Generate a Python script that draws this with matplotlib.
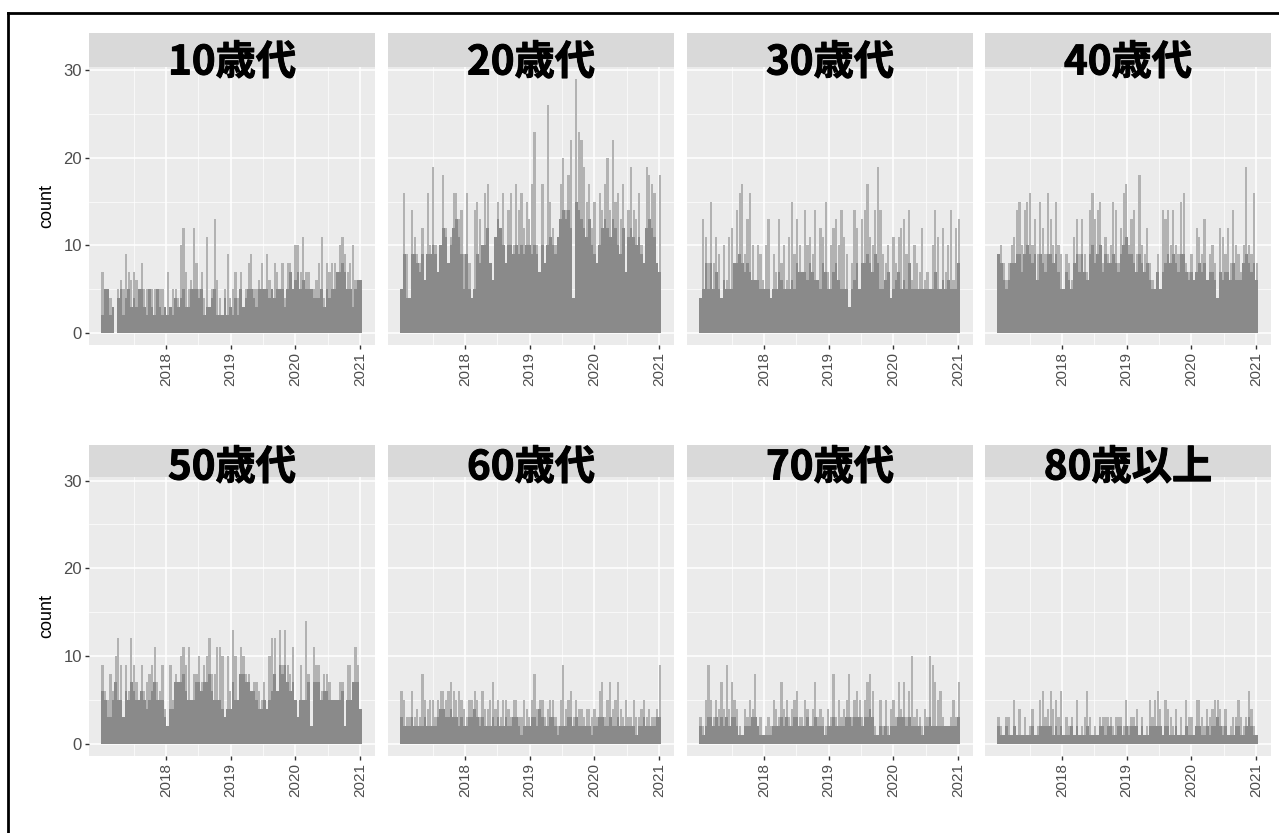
import numpy as np
import matplotlib.pyplot as plt
import matplotlib.patheffects as pe

plt.rcParams['font.family'] = ['Liberation Sans', 'DejaVu Sans']

# facet titles
TITLES = ['10歳代', '20歳代', '30歳代', '40歳代', '50歳代', '60歳代', '70歳代', '80歳以上']

# spike heights (light) and base heights (dark), ~2 weeks per value, 2017-01 .. 2021-01
hi_10 = [7, 5, 5, 4, 3, 0, 5, 6, 5, 9, 7, 6,
         7, 6, 5, 8, 5, 5, 5, 5, 5, 5, 5, 5, 3,
         7, 3, 5, 5, 4, 10, 12, 7, 5, 6, 12, 8,
         5, 7, 4, 11, 3, 5, 13, 6, 4, 2, 5, 9, 4,
         5, 7, 4, 7, 3, 5, 8, 9, 5, 5, 6, 8,
         5, 9, 6, 5, 8, 7, 5, 8, 4, 8, 8, 5, 10,
         10, 7, 11, 7, 7, 5, 5, 6, 8, 11, 4, 8,
         7, 8, 8, 7, 10, 11, 9, 7, 8, 10, 6, 6, 6]
lo_10 = [2, 5, 5, 2, 3, 0, 4, 5, 2, 4, 5, 3,
         4, 3, 5, 5, 3, 2, 5, 3, 2, 5, 3, 2, 3,
         2, 3, 2, 4, 3, 4, 5, 3, 3, 5, 5, 5,
         4, 5, 2, 3, 3, 4, 5, 2, 2, 2, 4, 2, 3,
         2, 4, 2, 5, 3, 4, 5, 5, 4, 3, 5, 5,
         5, 5, 4, 5, 4, 5, 5, 5, 3, 5, 7, 5, 6,
         7, 5, 6, 5, 5, 5, 4, 4, 4, 5, 3, 5,
         4, 5, 5, 7, 7, 8, 7, 5, 5, 3, 5, 6, 6]

hi_20 = [5, 16, 9, 4, 14, 11, 9, 8, 12, 6, 16, 10,
         19, 10, 7, 10, 18, 12, 8, 11, 16, 16, 13, 14, 9,
         16, 8, 4, 14, 15, 13, 10, 16, 17, 8, 6, 11,
         15, 12, 16, 8, 14, 16, 10, 17, 14, 16, 12, 15, 13,
         17, 23, 10, 7, 17, 8, 26, 15, 12, 10, 11, 17,
         20, 14, 18, 22, 4, 29, 23, 22, 19, 15, 17, 12, 15,
         8, 16, 14, 17, 20, 14, 22, 15, 16, 13, 17, 7,
         14, 19, 14, 13, 16, 10, 8, 19, 18, 17, 16, 8, 18]
lo_20 = [5, 9, 4, 4, 9, 9, 8, 7, 9, 6, 9, 9,
         10, 9, 7, 10, 12, 11, 8, 10, 12, 13, 11, 9, 5,
         9, 5, 4, 5, 9, 8, 10, 10, 12, 8, 6, 11,
         13, 12, 10, 8, 10, 10, 9, 10, 9, 10, 9, 10, 10,
         9, 10, 9, 7, 10, 8, 10, 11, 10, 9, 11, 13,
         14, 13, 14, 12, 4, 15, 14, 13, 12, 11, 13, 10, 9,
         8, 10, 12, 13, 12, 11, 13, 12, 10, 9, 12, 7,
         11, 12, 11, 10, 11, 9, 8, 12, 13, 12, 11, 8, 7]

hi_30 = [4, 13, 11, 8, 15, 8, 11, 9, 4, 10, 6, 11,
         12, 8, 14, 16, 17, 9, 13, 16, 10, 6, 10, 9, 6,
         10, 13, 4, 9, 7, 13, 8, 10, 6, 11, 15, 9,
         13, 10, 7, 14, 10, 11, 9, 14, 6, 12, 11, 15, 7,
         10, 12, 13, 10, 14, 11, 9, 3, 8, 14, 12, 5,
         13, 14, 17, 11, 10, 14, 19, 14, 9, 8, 10, 4, 11,
         8, 11, 12, 13, 9, 14, 6, 10, 8, 7, 12, 6,
         7, 5, 10, 14, 11, 5, 12, 7, 10, 14, 6, 12, 13]
lo_30 = [4, 5, 8, 5, 8, 5, 7, 5, 4, 6, 5, 5,
         5, 8, 8, 9, 8, 7, 8, 7, 6, 6, 6, 5, 5,
         5, 5, 4, 5, 5, 7, 6, 5, 5, 5, 6, 5,
         8, 7, 7, 7, 6, 8, 7, 6, 6, 5, 8, 7, 5,
         5, 7, 8, 6, 5, 5, 5, 3, 5, 6, 8, 5,
         8, 8, 9, 8, 7, 9, 8, 5, 5, 6, 7, 4, 5,
         6, 7, 5, 6, 5, 8, 5, 5, 5, 5, 5, 5,
         5, 5, 5, 7, 5, 5, 6, 5, 6, 5, 5, 5, 8]

hi_40 = [9, 10, 8, 6, 8, 10, 11, 14, 15, 10, 14, 15,
         16, 10, 13, 9, 15, 12, 9, 16, 13, 10, 15, 10, 9,
         5, 9, 8, 6, 11, 13, 9, 13, 9, 7, 14, 16,
         13, 14, 15, 8, 11, 9, 10, 15, 14, 8, 12, 16, 17,
         10, 13, 14, 9, 18, 10, 9, 12, 8, 6, 5, 9,
         5, 14, 13, 14, 10, 14, 10, 9, 15, 16, 8, 7, 9,
         6, 12, 11, 9, 13, 6, 9, 10, 8, 4, 12, 11,
         9, 12, 8, 14, 10, 9, 7, 10, 19, 10, 9, 16, 8]
lo_40 = [9, 8, 6, 5, 6, 8, 8, 9, 9, 7, 9, 10,
         9, 8, 9, 6, 9, 8, 7, 9, 9, 8, 9, 7, 5,
         5, 7, 6, 5, 8, 9, 7, 9, 7, 6, 9, 10,
         8, 9, 10, 7, 9, 8, 8, 9, 8, 7, 9, 10, 11,
         9, 9, 8, 7, 9, 8, 7, 8, 6, 5, 5, 7,
         5, 7, 8, 9, 8, 9, 8, 7, 9, 9, 7, 6, 7,
         6, 7, 8, 7, 8, 6, 7, 7, 6, 4, 7, 6,
         7, 7, 6, 8, 6, 6, 6, 8, 9, 8, 7, 8, 6]

hi_50 = [9, 6, 5, 8, 6, 10, 12, 9, 3, 9, 6, 12,
         9, 7, 5, 9, 6, 7, 8, 9, 11, 7, 6, 9, 4,
         2, 9, 5, 8, 7, 10, 11, 9, 11, 5, 8, 8,
         10, 7, 9, 10, 12, 8, 8, 11, 11, 10, 3, 10, 6,
         13, 10, 5, 11, 10, 8, 8, 6, 7, 7, 6, 5,
         7, 4, 10, 12, 12, 6, 13, 9, 13, 9, 8, 11, 5,
         3, 9, 5, 14, 8, 2, 11, 9, 9, 6, 8, 8,
         7, 5, 5, 5, 7, 7, 2, 9, 9, 7, 11, 9, 4]
lo_50 = [6, 5, 3, 3, 5, 7, 5, 5, 3, 6, 5, 7,
         6, 5, 5, 6, 5, 4, 5, 6, 7, 5, 5, 5, 3,
         2, 4, 4, 7, 7, 7, 8, 6, 5, 5, 5, 7,
         7, 6, 7, 7, 8, 6, 5, 5, 5, 4, 3, 4, 4,
         7, 5, 5, 8, 8, 7, 7, 6, 6, 5, 4, 4,
         5, 4, 5, 6, 8, 6, 9, 8, 9, 7, 6, 7, 5,
         3, 5, 5, 5, 7, 2, 7, 7, 7, 5, 6, 6,
         5, 5, 5, 5, 5, 6, 2, 5, 5, 7, 7, 7, 4]

hi_60 = [6, 5, 3, 3, 6, 3, 4, 3, 8, 5, 4, 5,
         5, 3, 5, 6, 6, 5, 6, 7, 6, 5, 6, 5, 4,
         3, 5, 5, 6, 5, 3, 6, 4, 4, 5, 7, 4,
         5, 3, 5, 5, 4, 3, 5, 5, 3, 3, 5, 4, 3,
         5, 8, 4, 5, 5, 3, 4, 5, 5, 3, 2, 5,
         9, 4, 5, 6, 3, 5, 4, 4, 3, 4, 4, 3, 4,
         3, 6, 7, 3, 5, 7, 4, 5, 7, 4, 3, 5,
         3, 3, 5, 3, 3, 4, 5, 3, 4, 3, 3, 4, 9]
lo_60 = [3, 2, 2, 2, 3, 2, 2, 2, 2, 3, 2, 2,
         2, 2, 3, 4, 4, 3, 3, 4, 3, 3, 2, 3, 2,
         2, 3, 3, 4, 3, 2, 3, 2, 2, 2, 3, 2,
         3, 2, 2, 3, 2, 2, 3, 3, 2, 1, 2, 2, 2,
         3, 3, 2, 4, 3, 2, 2, 3, 3, 2, 1, 2,
         2, 2, 3, 3, 2, 3, 2, 2, 2, 2, 2, 1, 2,
         2, 3, 3, 2, 2, 3, 2, 2, 3, 2, 2, 2,
         2, 2, 2, 1, 2, 2, 3, 2, 2, 2, 2, 3, 3]

hi_70 = [3, 2, 5, 9, 5, 3, 5, 4, 7, 4, 9, 4,
         7, 5, 4, 2, 1, 4, 3, 5, 4, 8, 2, 3, 1,
         2, 3, 2, 5, 4, 3, 7, 4, 5, 3, 4, 5,
         6, 3, 3, 5, 4, 2, 4, 7, 3, 4, 3, 2, 4,
         3, 8, 3, 5, 3, 4, 5, 8, 3, 5, 6, 5,
         3, 5, 7, 8, 6, 2, 1, 5, 2, 5, 2, 4, 5,
         3, 7, 4, 7, 3, 6, 10, 3, 4, 3, 2, 4,
         3, 10, 9, 7, 5, 6, 3, 2, 2, 3, 5, 3, 7]
lo_70 = [2, 1, 2, 3, 3, 2, 3, 2, 3, 2, 3, 2,
         3, 3, 2, 1, 1, 2, 2, 2, 3, 3, 2, 1, 1,
         1, 1, 1, 2, 2, 2, 3, 2, 3, 2, 2, 3,
         3, 2, 2, 2, 3, 2, 2, 3, 2, 2, 2, 1, 2,
         2, 3, 2, 2, 2, 2, 3, 3, 2, 3, 3, 3,
         2, 3, 3, 4, 3, 1, 1, 2, 1, 2, 1, 2, 2,
         2, 3, 3, 3, 2, 3, 2, 2, 2, 2, 1, 2,
         2, 3, 2, 2, 2, 2, 2, 2, 2, 2, 2, 2, 3]

hi_80 = [3, 2, 1, 3, 3, 1, 5, 1, 4, 1, 3, 1,
         2, 4, 1, 2, 5, 6, 3, 4, 6, 4, 5, 3, 6,
         1, 3, 2, 3, 1, 5, 1, 2, 3, 6, 3, 1,
         2, 1, 3, 3, 3, 3, 3, 2, 3, 3, 3, 2, 5,
         2, 3, 3, 4, 1, 3, 1, 2, 5, 3, 5, 6,
         4, 1, 5, 4, 3, 2, 4, 1, 3, 1, 5, 3, 3,
         1, 5, 5, 3, 2, 4, 3, 4, 5, 5, 4, 2,
         4, 1, 2, 3, 3, 5, 3, 2, 3, 6, 4, 2, 1]
lo_80 = [2, 1, 1, 2, 1, 1, 2, 1, 1, 1, 1, 1,
         1, 2, 1, 1, 2, 2, 2, 2, 2, 1, 2, 1, 2,
         1, 1, 1, 2, 1, 2, 1, 1, 1, 2, 1, 1,
         1, 1, 2, 2, 1, 2, 2, 1, 1, 2, 2, 1, 2,
         1, 2, 2, 2, 1, 2, 1, 1, 2, 2, 2, 2,
         2, 1, 2, 2, 1, 1, 2, 1, 1, 1, 2, 1, 1,
         1, 2, 2, 1, 1, 2, 1, 2, 2, 3, 2, 1,
         2, 1, 1, 1, 2, 2, 1, 1, 2, 3, 2, 1, 1]

HI = [hi_10, hi_20, hi_30, hi_40, hi_50, hi_60, hi_70, hi_80]
LO = [lo_10, lo_20, lo_30, lo_40, lo_50, lo_60, lo_70, lo_80]

YEARS = [2018, 2019, 2020, 2021]
START, END = 2017.0, 2021.03

W, H = 1279, 833
PANEL_BG = '#ebebeb'
STRIP_BG = '#d9d9d9'
DARK = '#8a8a8a'
LIGHT = '#b2b2b2'

fig = plt.figure(figsize=(W / 100, H / 100), dpi=100)

# panel boxes in pixels
lefts = [89, 388, 687, 985]
pw = 286
rows = [(33, 67, 345, 63), (445, 477, 756, 468)]  # strip top, plot top, plot bottom, title y

for k in range(8):
    r, c = divmod(k, 4)
    s_top, p_top, p_bot, t_y = rows[r]
    x0 = lefts[c]
    ax = fig.add_axes([x0 / W, 1 - p_bot / H, pw / W, (p_bot - p_top) / H])
    ax.set_facecolor(PANEL_BG)

    hi = np.array(HI[k], dtype=float)
    lo = np.minimum(np.array(LO[k], dtype=float), hi)
    n = len(hi)
    step = (END - START) / n
    xs = START + step * (np.arange(n) + 0.5)
    ax.bar(xs, hi, width=step * 0.85, color=LIGHT, linewidth=0, zorder=2)
    ax.bar(xs, lo, width=step, color=DARK, linewidth=0, zorder=3)

    ax.set_xlim(2016.81, 2021.23)
    ax.set_ylim(-1.4, 30.4)
    ax.set_xticks(YEARS)
    ax.set_xticks([2017.5, 2018.5, 2019.5, 2020.5], minor=True)
    ax.set_yticks([0, 10, 20, 30])
    ax.set_yticks([5, 15, 25], minor=True)
    ax.grid(which='major', color='white', lw=1.1, zorder=1)
    ax.grid(which='minor', color='white', lw=0.5, zorder=1)
    ax.set_axisbelow(True)
    for sp in ax.spines.values():
        sp.set_visible(False)
    ax.tick_params(which='minor', length=0)
    ax.tick_params(which='major', length=3, color='#333333', width=1, labelcolor='#4d4d4d',
                   labelsize=11, pad=2)
    ax.tick_params(axis='y', labelsize=12)
    ax.set_xticklabels([str(y) for y in YEARS], rotation=90)
    if c == 0:
        ax.set_ylabel('count', fontsize=13, color='black', labelpad=6)
    else:
        ax.set_yticklabels([])
        ax.tick_params(axis='y', length=0)

    # strip
    sx = fig.add_axes([x0 / W, 1 - p_top / H, pw / W, (p_top - s_top) / H])
    sx.set_facecolor(STRIP_BG)
    sx.set_xticks([])
    sx.set_yticks([])
    for sp in sx.spines.values():
        sp.set_visible(False)

    fig.text((x0 + pw / 2) / W, 1 - t_y / H, TITLES[k], ha='center', va='center',
             fontsize=29, fontweight='bold', family=['Noto Sans CJK JP', 'DejaVu Sans'],
             color='black', zorder=10,
             path_effects=[pe.withStroke(linewidth=0.7, foreground='black')])

# outer frame (left and top)
fig.add_artist(plt.Line2D([8 / W, 8 / W], [0, 1 - 13 / H], color='black', lw=2))
fig.add_artist(plt.Line2D([8 / W, 1], [1 - 13 / H, 1 - 13 / H], color='black', lw=2))

fig.savefig('out.png', dpi=100, facecolor='white')
